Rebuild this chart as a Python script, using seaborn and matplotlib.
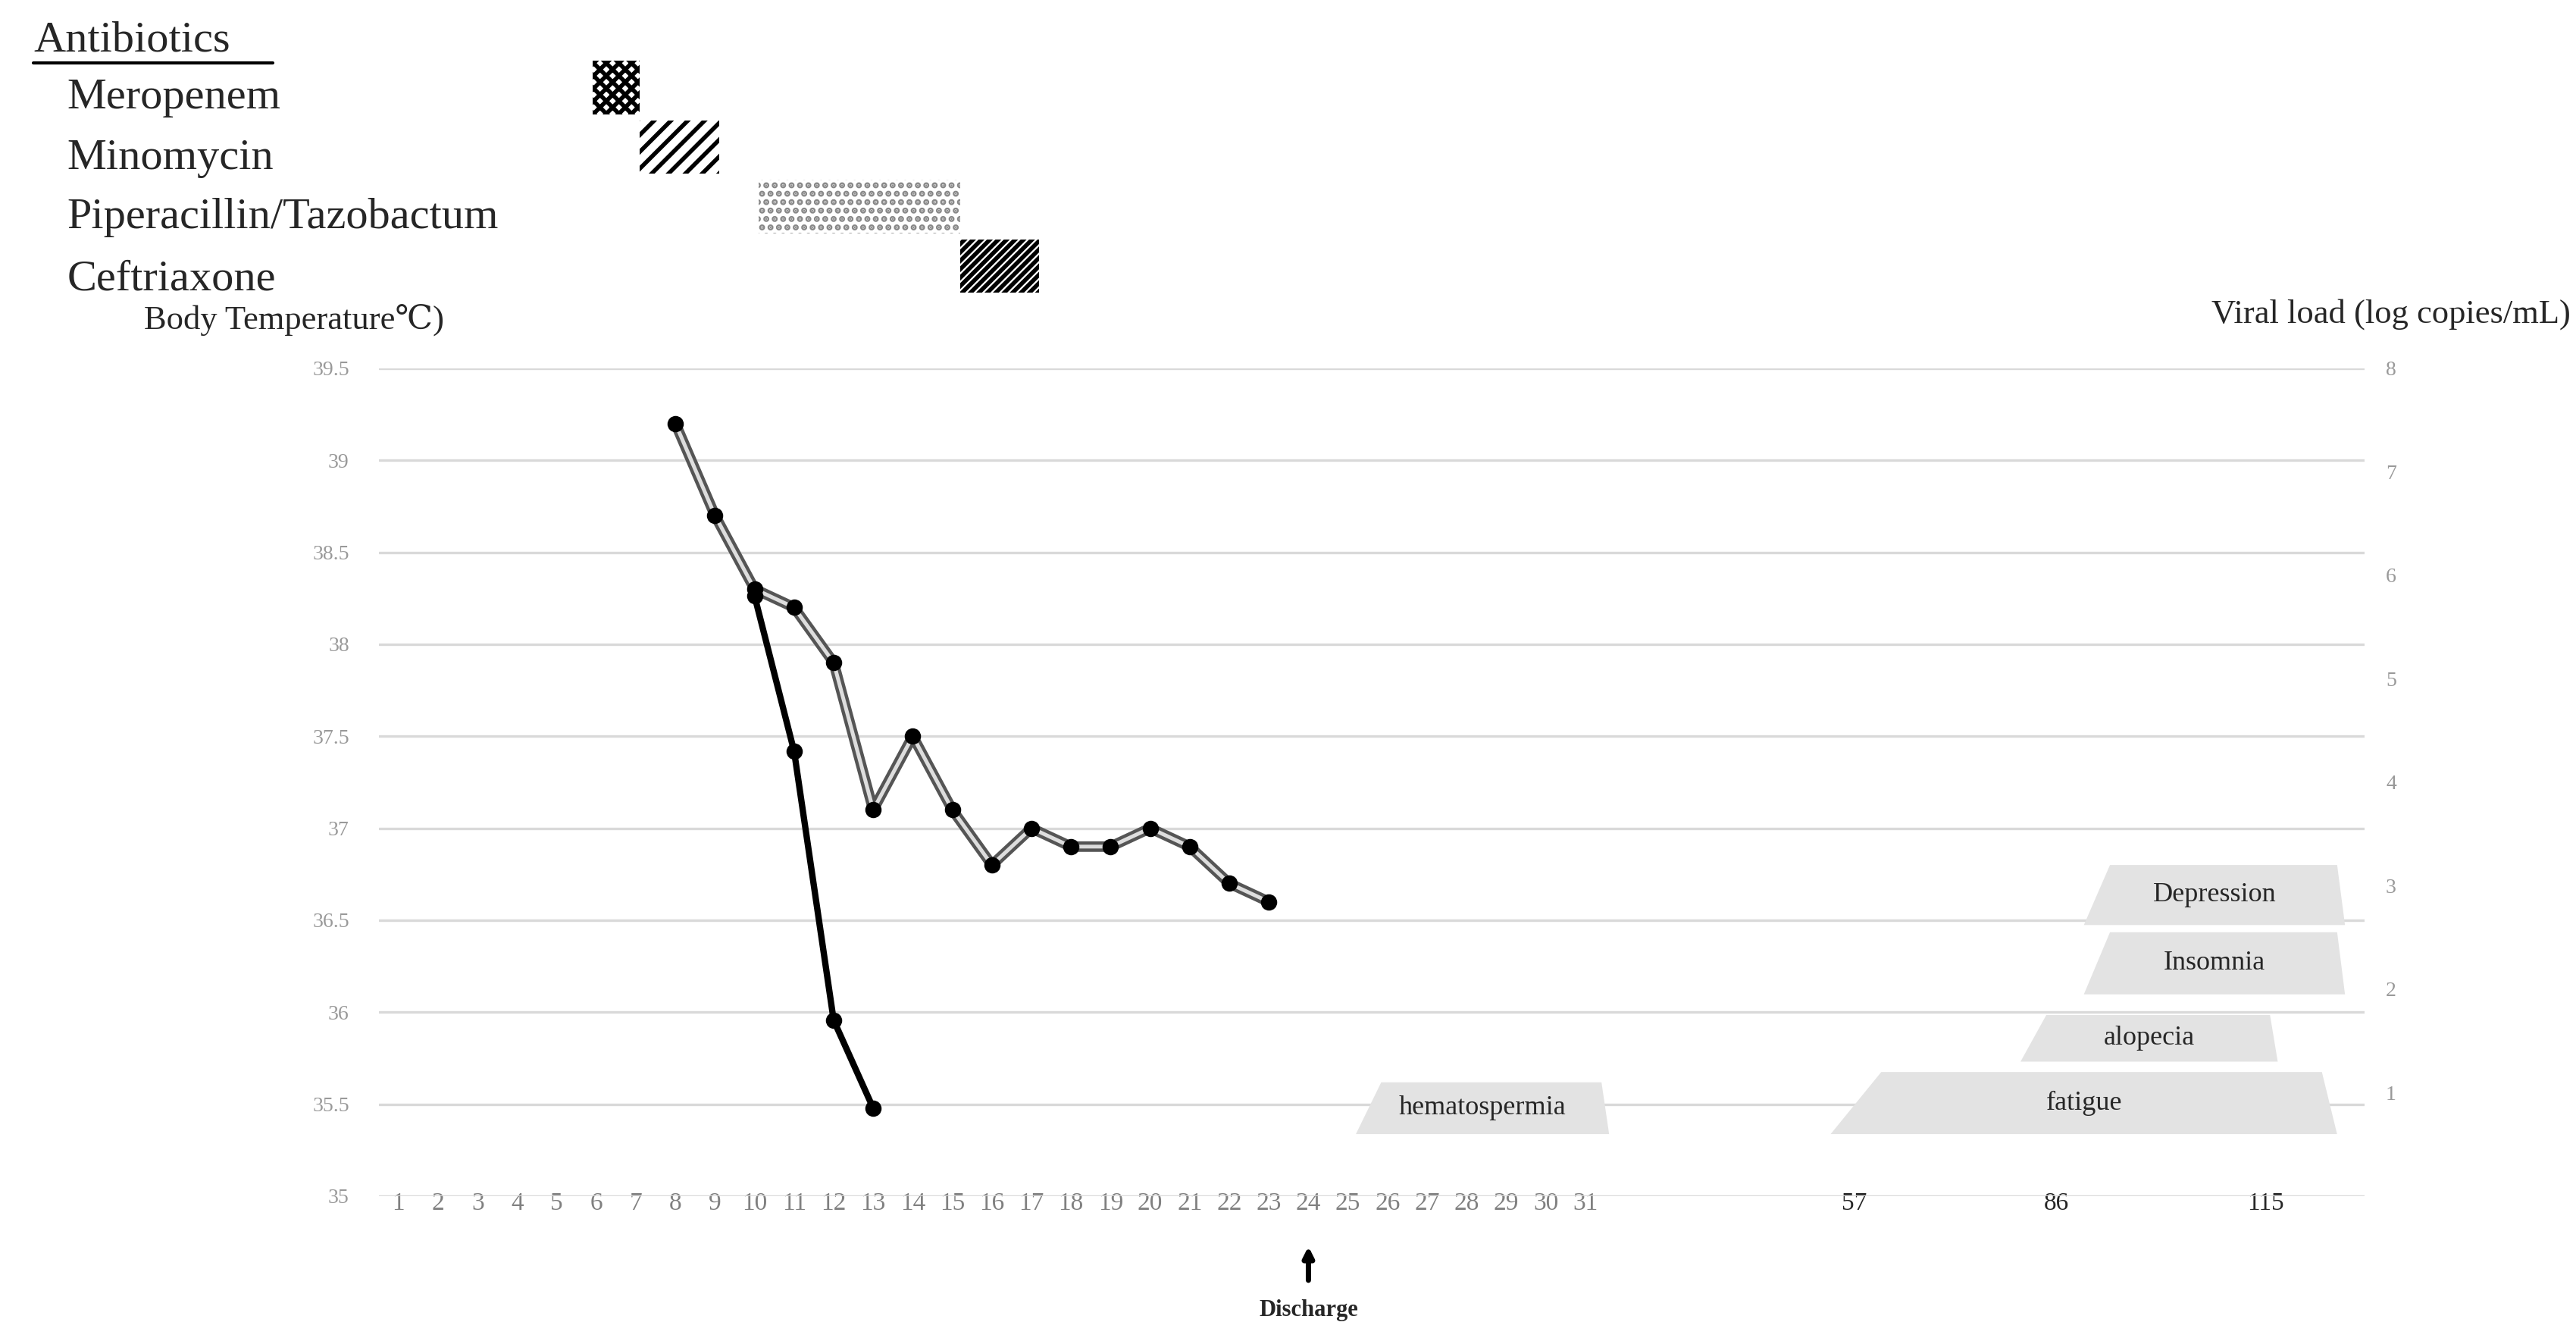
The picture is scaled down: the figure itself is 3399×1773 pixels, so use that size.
import numpy as np
import pandas as pd
import seaborn as sns
import matplotlib.pyplot as plt
from matplotlib.patches import Polygon

# body temperature (left axis)
temp_days = [8, 9, 10, 11, 12, 13, 14, 15, 16, 17, 18, 19, 20, 21, 22, 23]
temp_vals = [39.2, 38.7, 38.3, 38.2, 37.9, 37.1, 37.5, 37.1, 36.8, 37.0, 36.9, 36.9, 37.0, 36.9, 36.7, 36.6]

# viral load (right axis)
vl_days = [10, 11, 12, 13]
vl_vals = [5.8, 4.3, 1.7, 0.85]

# antibiotics (start day, end day)
abx_names = ["Meropenem", "Minomycin", "Piperacillin/Tazobactum", "Ceftriaxone"]
abx_start = [5.9, 7.1, 10.1, 15.2]
abx_end = [7.1, 9.1, 15.2, 17.2]
abx_hatch = ["XXXX", "///", "...", "//////"]

# symptoms: x in axis position units, y on viral-load axis
sym_names = ["hematospermia", "fatigue", "alopecia", "Insomnia", "Depression"]
sym_x0 = [24.2, 36.2, 41.0, 42.6, 42.6]
sym_x1 = [30.6, 49.0, 47.5, 49.2, 49.2]
sym_y0 = [0.6, 0.6, 1.3, 1.95, 2.62]
sym_y1 = [1.1, 1.2, 1.75, 2.55, 3.2]

day_labels = [str(d) for d in range(1, 32)] + ["57", "86", "115"]
day_pos = list(range(0, 31)) + [36.8, 41.9, 47.2]

def pos(d):
    return d - 1

sns.set_style("white")
plt.rcParams['font.family'] = ['Liberation Serif', 'DejaVu Serif']
plt.rcParams['hatch.linewidth'] = 2.0

fig = plt.figure(figsize=(16.995, 8.865), dpi=200)
ax = fig.add_axes([0.147, 0.11, 0.771, 0.616])
ax2 = ax.twinx()

xl = (-0.5, 49.7)
ax.set_xlim(*xl)
ax.set_ylim(35, 39.5)
ax2.set_ylim(0, 8)
ax.set_yticks(np.arange(35, 39.6, 0.5))
ax.set_yticklabels(["35", "35.5", "36", "36.5", "37", "37.5", "38", "38.5", "39", "39.5"])
ax.grid(axis="y", color="#d9d9d9", lw=1.2)
ax.set_xticks(day_pos)
ax.set_xticklabels(day_labels)
for lbl in ax.get_xticklabels()[:31]:
    lbl.set_color("#808080")
ax.tick_params(axis="x", length=0, labelsize=12, pad=-2)
ax.tick_params(axis="y", length=0, labelsize=10, labelcolor="#999999", pad=14)
ax2.set_yticks(range(1, 9))
ax2.tick_params(axis="y", length=0, labelsize=10, labelcolor="#999999", pad=10)
for a in (ax, ax2):
    for s in a.spines.values():
        s.set_visible(False)

# symptoms as trapezoids
for n, x0, x1, y0, y1 in zip(sym_names, sym_x0, sym_x1, sym_y0, sym_y1):
    inset = (x1 - x0) * 0.1
    poly = Polygon([[x0, y0], [x1, y0], [x1 - inset * 0.3, y1], [x0 + inset, y1]],
                   closed=True, color="#e3e3e3", lw=0)
    ax2.add_patch(poly)
    ax2.text((x0 + x1) / 2, (y0 + y1) / 2, n, ha="center", va="center", fontsize=13)

t = pd.DataFrame({"x": [pos(d) for d in temp_days], "y": temp_vals})
sns.lineplot(data=t, x="x", y="y", ax=ax, color="#555555", lw=5, zorder=3)
sns.lineplot(data=t, x="x", y="y", ax=ax, color="#dddddd", lw=1.8, zorder=4,
             marker="o", markersize=7, markerfacecolor="black", markeredgecolor="black")
v = pd.DataFrame({"x": [pos(d) for d in vl_days], "y": vl_vals})
sns.lineplot(data=v, x="x", y="y", ax=ax2, color="black", lw=3, zorder=5,
             marker="o", markersize=7, markeredgecolor="black")
ax.set_xlabel("")
ax.set_ylabel("")
ax2.set_ylabel("")

fig.text(0.056, 0.755, "Body Temperature℃)", fontsize=16)
fig.text(0.998, 0.76, "Viral load (log copies/mL)", fontsize=16, ha="right")

# discharge arrow
ax.annotate("", xy=(pos(24), 34.75), xytext=(pos(24), 34.52), xycoords="data",
            arrowprops=dict(arrowstyle="-|>", color="black", lw=2.5), annotation_clip=False)
ax.text(pos(24), 34.38, "Discharge", ha="center", va="center", fontsize=11, fontweight="bold")

# antibiotics panel
axa = fig.add_axes([0.147, 0.78, 0.771, 0.177])
axa.set_xlim(*xl)
axa.set_ylim(len(abx_names), 0)
axa.axis("off")
for i, (s, e, h) in enumerate(zip(abx_start, abx_end, abx_hatch)):
    axa.barh(i + 0.5, pos(e) - pos(s), left=pos(s), height=0.9, color="white",
             edgecolor="black" if i != 2 else "#888888", hatch=h, lw=0)
fig.text(0.013, 0.97, "Antibiotics", fontsize=21, va="center")
fig.add_artist(plt.Line2D([0.013, 0.106], [0.953, 0.953], color="black", lw=1.5))
name_y = [0.927, 0.882, 0.838, 0.792]
for n, y in zip(abx_names, name_y):
    fig.text(0.026, y, n, fontsize=21, va="center")

fig.savefig("out.png", dpi=200)
